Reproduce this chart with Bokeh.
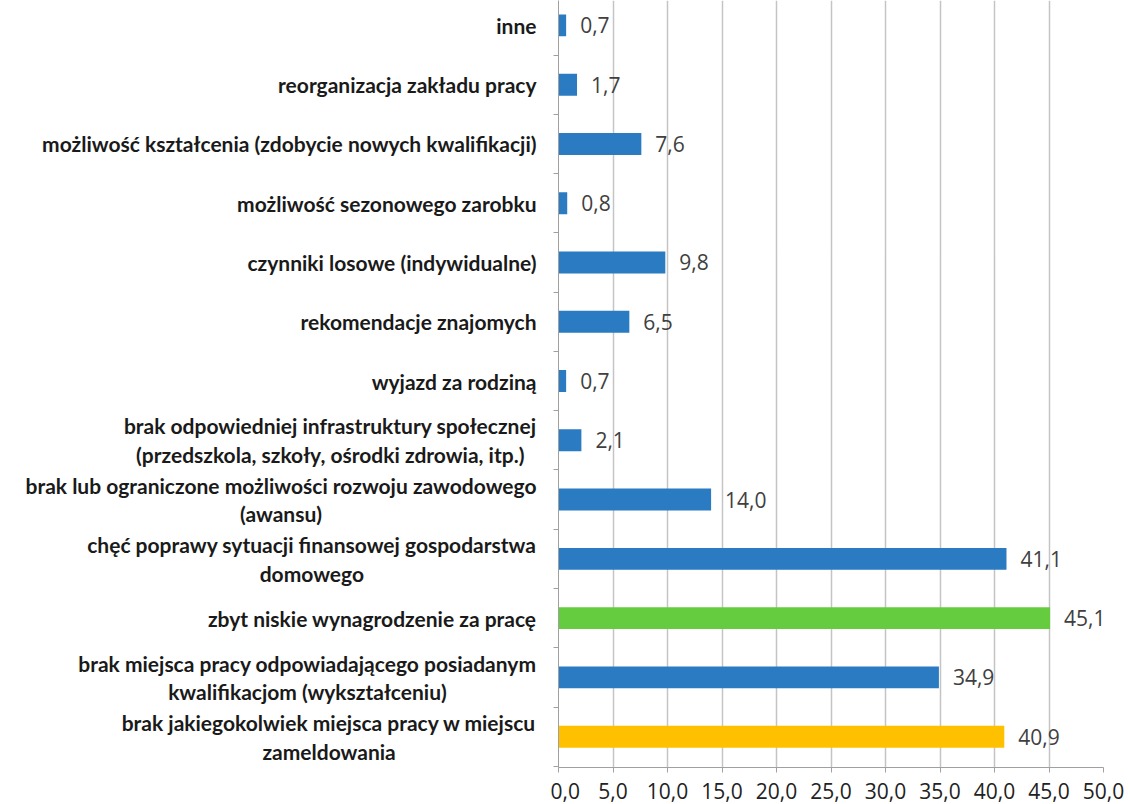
from bokeh.plotting import figure
from bokeh.layouts import row
from bokeh.models import FixedTicker, ColumnDataSource, Range1d
from bokeh.embed import file_html
from bokeh.resources import INLINE
from bokeh.core.properties import value

categories = [
    "inne",
    "reorganizacja zakładu pracy",
    "możliwość kształcenia (zdobycie nowych kwalifikacji)",
    "możliwość sezonowego zarobku",
    "czynniki losowe (indywidualne)",
    "rekomendacje znajomych",
    "wyjazd za rodziną",
    "brak odpowiedniej infrastruktury społecznej\n(przedszkola, szkoły, ośrodki zdrowia, itp.)",
    "brak lub ograniczone możliwości rozwoju zawodowego\n(awansu)",
    "chęć poprawy sytuacji finansowej gospodarstwa\ndomowego",
    "zbyt niskie wynagrodzenie za pracę",
    "brak miejsca pracy odpowiadającego posiadanym\nkwalifikacjom (wykształceniu)",
    "brak jakiegokolwiek miejsca pracy w miejscu\nzameldowania",
]
values = [0.7, 1.7, 7.6, 0.8, 9.8, 6.5, 0.7, 2.1, 14.0, 41.1, 45.1, 34.9, 40.9]
x_ticks = [0, 5, 10, 15, 20, 25, 30, 35, 40, 45, 50]
x_tick_labels = ["0,0", "5,0", "10,0", "15,0", "20,0", "25,0", "30,0", "35,0", "40,0", "45,0", "50,0"]

BLUE, GREEN, YELLOW = "#2A7BC2", "#66CC3F", "#FFC000"
colors = [BLUE] * 10 + [GREEN, BLUE, YELLOW]

n = len(categories)
ypos = [n - 1 - i for i in range(n)]
labels = [f"{v:.1f}".replace(".", ",") for v in values]

src = ColumnDataSource(dict(y=ypos, v=values, c=colors, lab=labels))
cat_src = ColumnDataSource(dict(y=ypos, cat=categories, x=[1.0] * n))

y_range = Range1d(-0.52, n - 1 + 0.42)
H = 804
BOTTOM = 37

# ---- label panel (left) ----
lp = figure(width=550, height=H, output_backend="svg", toolbar_location=None,
            x_range=Range1d(0, 1), y_range=y_range,
            min_border_left=0, min_border_right=0, min_border_top=0, min_border_bottom=BOTTOM)
lp.axis.visible = False
lp.grid.grid_line_color = None
lp.outline_line_color = None
lp.text(x="x", y="y", text="cat", source=cat_src, x_offset=-14,
        anchor="center_right", text_align="center", text_baseline="middle",
        text_font=value("Lato"), text_font_style="bold", text_font_size="21px",
        text_color="#1a1a1a", text_line_height=1.15)

# ---- chart (right) ----
p = figure(width=580, height=H, output_backend="svg", toolbar_location=None,
           x_range=Range1d(0, 50), y_range=y_range,
           min_border_left=8, min_border_right=27, min_border_top=0, min_border_bottom=BOTTOM)
p.outline_line_color = None
p.background_fill_color = "white"

p.hbar(y="y", right="v", left=0, height=0.37, fill_color="c", line_color=None, source=src)
p.text(x="v", y="y", text="lab", source=src, x_offset=14, text_baseline="middle",
       text_align="left", text_font=value("Open Sans"), text_font_size="21px", text_color="#404040")

p.xaxis.ticker = FixedTicker(ticks=x_ticks)
p.xaxis.major_label_overrides = {t: l for t, l in zip(x_ticks, x_tick_labels)}
p.xaxis.major_label_text_font = "Open Sans"
p.xaxis.major_label_text_font_size = "21px"
p.xaxis.major_label_text_color = "#222222"
p.xaxis.axis_line_color = "#a0a0a0"
p.xaxis.major_tick_line_color = "#a0a0a0"
p.xaxis.major_tick_in = 0
p.xaxis.major_tick_out = 5
p.xaxis.minor_tick_line_color = None
p.xaxis.major_label_standoff = 10

p.yaxis.ticker = FixedTicker(ticks=ypos, minor_ticks=[i + 0.5 for i in range(-1, n)])
p.yaxis.major_label_overrides = {y: "" for y in ypos}
p.yaxis.major_label_text_font_size = "0px"
p.yaxis.major_label_standoff = 0
p.yaxis.axis_line_color = "#a0a0a0"
p.yaxis.major_tick_line_color = None
p.yaxis.major_tick_out = 0
p.yaxis.major_tick_in = 0
p.yaxis.minor_tick_line_color = "#a0a0a0"
p.yaxis.minor_tick_in = 0
p.yaxis.minor_tick_out = 5

p.xgrid.ticker = FixedTicker(ticks=x_ticks)
p.xgrid.grid_line_color = "#c4c4c4"
p.xgrid.grid_line_width = 1.5
p.ygrid.grid_line_color = None

layout = row(lp, p, spacing=0)
open("out.html", "w").write(file_html(layout, INLINE))
